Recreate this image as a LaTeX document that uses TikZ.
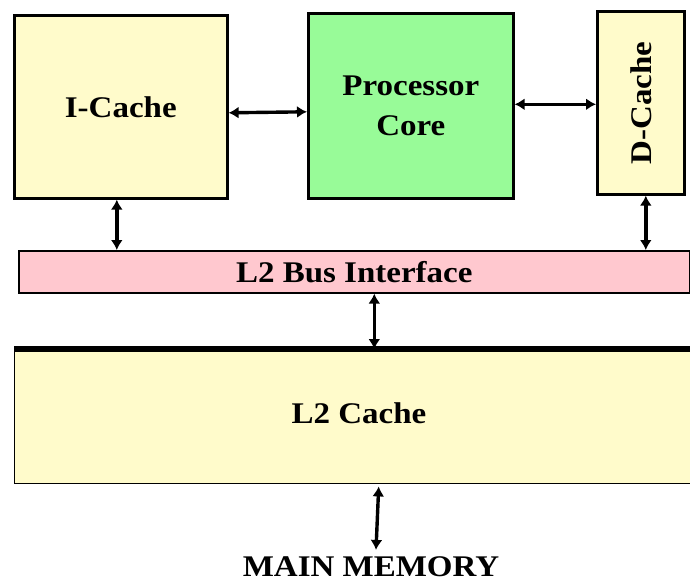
\documentclass[tikz,border=0pt]{standalone}
\usepackage{fontspec}
\setmainfont[FakeStretch=1.1]{Liberation Serif}
\usetikzlibrary{arrows.meta,positioning,calc}
\definecolor{CacheFill}{HTML}{FFFBCB}
\definecolor{CoreFill}{HTML}{98FB98}
\definecolor{BusFill}{HTML}{FFC8CF}

\tikzset{
  unit/.style={draw, line width=2.6pt, anchor=north west, font=\fontsize{30}{40}\selectfont\bfseries, align=center, inner sep=0pt},
  link/.style={line width=3.4pt, {Latex[length=10pt,width=12pt]}-{Latex[length=10pt,width=12pt]}}
}

\begin{document}
\begin{tikzpicture}[x=1pt, y=-1pt]
\useasboundingbox[fill=white] (0,0) rectangle (690,582);
\node[unit, fill=CacheFill, minimum width=213pt, minimum height=183pt] (icache) at (13,14) {I-Cache};
\node[unit, fill=CoreFill, minimum width=205pt, minimum height=185pt] (core) at (307,12) {Processor\\Core};
\node[unit, fill=CacheFill, minimum width=87pt, minimum height=183pt] (dcache) at (596,10) {\rotatebox{90}{D-Cache}};
\node[unit, fill=BusFill, line width=1.6pt, minimum width=671pt, minimum height=42pt] (bus) at (18,250) {L2 Bus Interface};
\node[unit, fill=CacheFill, line width=1.4pt, minimum width=690pt, minimum height=134pt] (l2) at (14,349) {};
\node[font=\fontsize{30}{36}\selectfont\bfseries] (l2text) at (359,413) {L2 Cache};
\draw[line width=6pt] (l2.north west) -- (l2.north east);
\node[font=\fontsize{30}{36}\selectfont\bfseries, anchor=base, inner sep=0pt] (mem) at (371,576) {MAIN MEMORY};
\draw[link] ([yshift=-6pt]icache.east) -- ([yshift=-6pt]core.west);
\draw[link] ([yshift=1.5pt]core.east) -- ([yshift=-1.5pt]dcache.west);
\draw[link] ([xshift=-4pt]icache.south) -- ([xshift=-4pt]icache.south |- bus.north);
\draw[link] ([xshift=5pt]dcache.south) -- ([xshift=5pt]dcache.south |- bus.north);
\draw[link] ([xshift=20pt]bus.south) -- ([xshift=20pt]bus.south |- l2.north);
\draw[link] ([xshift=19pt,yshift=-2pt]l2.south) -- ([xshift=5pt,yshift=6pt]mem.north);
\end{tikzpicture}
\end{document}
